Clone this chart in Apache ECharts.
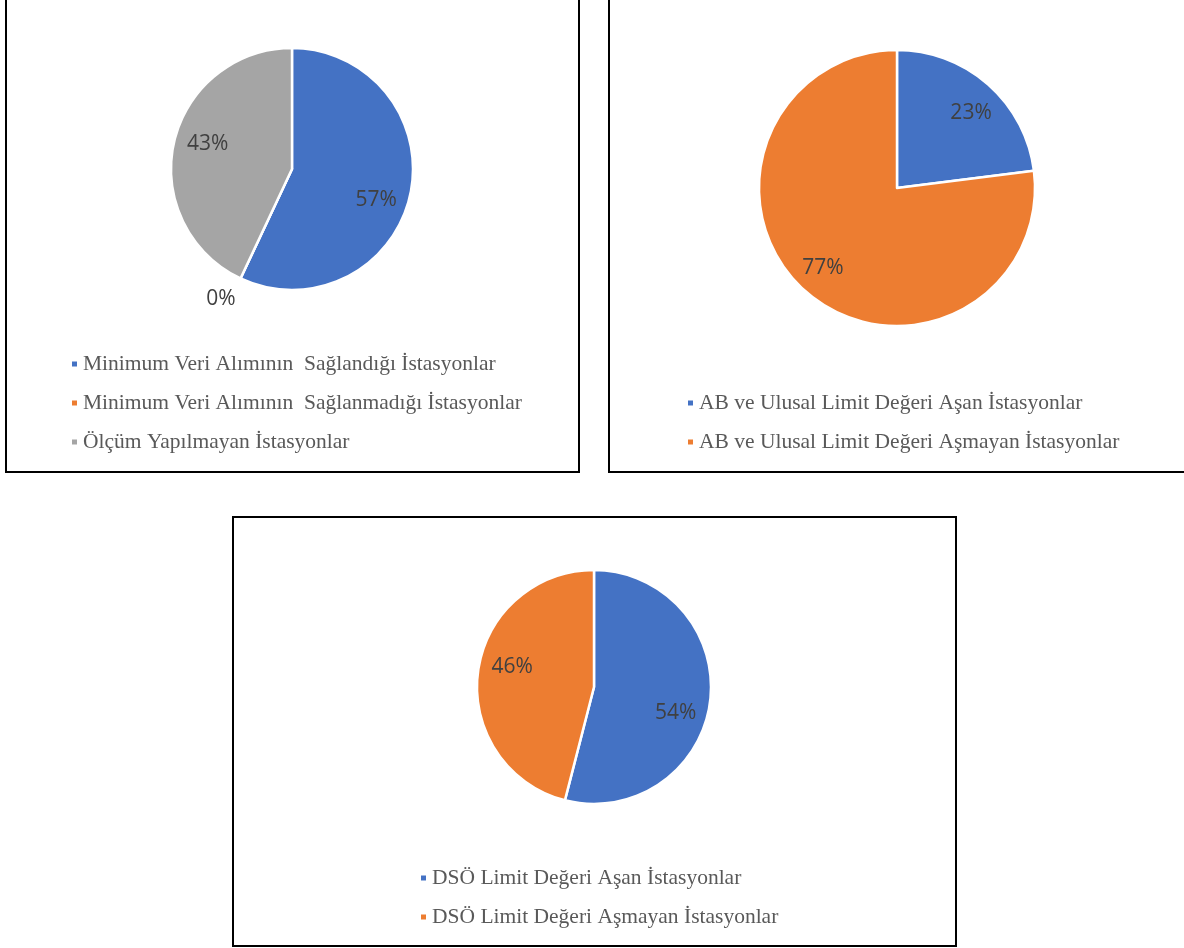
<!DOCTYPE html>
<html>
<head>
<meta charset="utf-8">
<script src="https://cdn.jsdelivr.net/npm/echarts@6/dist/echarts.min.js"></script>
<style>
  html, body { margin: 0; padding: 0; background: #fff; width: 1184px; height: 948px; overflow: hidden; }
  .box { position: absolute; border: 2px solid #000; box-sizing: border-box; background: #fff; }
  .chart { position: absolute; left: 0; top: 0; right: 0; bottom: 0; }
</style>
</head>
<body>
<div class="box" style="left:5px;top:-3px;width:575px;height:476px;"><div id="pie1" class="chart"></div></div>
<div class="box" style="left:608px;top:-3px;width:578px;height:476px;"><div id="pie2" class="chart"></div></div>
<div class="box" style="left:232px;top:516px;width:725px;height:431px;"><div id="pie3" class="chart"></div></div>
<script>
// data (percent of stations)
var names1 = ['Minimum Veri Alımının  Sağlandığı İstasyonlar', 'Minimum Veri Alımının  Sağlanmadığı İstasyonlar', 'Ölçüm Yapılmayan İstasyonlar'];
var values1 = [57, 0, 43];
var colors1 = ['#4472C4', '#ED7D31', '#A5A5A5'];

var names2 = ['AB ve Ulusal Limit Değeri Aşan İstasyonlar', 'AB ve Ulusal Limit Değeri Aşmayan İstasyonlar'];
var values2 = [23, 77];
var colors2 = ['#4472C4', '#ED7D31'];

var names3 = ['DSÖ Limit Değeri Aşan İstasyonlar', 'DSÖ Limit Değeri Aşmayan İstasyonlar'];
var values3 = [54, 46];
var colors3 = ['#4472C4', '#ED7D31'];

// build one pie: visible slices + a transparent ring that only carries the % labels
// (Excel puts its labels ~0.7 r out and a few degrees clockwise of the slice middle)
function makePie(id, names, values, colors, cfg) {
  var chart = echarts.init(document.getElementById(id));
  var slices = names.map(function (n, i) {
    return {name: n, value: values[i], itemStyle: {color: colors[i]}};
  });
  var labelData = names.map(function (n, i) {
    var d = {name: n, value: values[i]};
    if (values[i] === 0) {
      d.label = {position: 'outside', offset: [20, 12]};
    }
    return d;
  });
  chart.setOption({
    animation: false,
    legend: {
      data: names,
      orient: 'vertical',
      left: cfg.legendLeft,
      top: cfg.legendTop,
      padding: 0,
      itemWidth: 7,
      itemHeight: 7,
      itemGap: 17,
      icon: 'rect',
      selectedMode: false,
      textStyle: {fontFamily: 'Liberation Serif', fontSize: 21.5, color: '#595959', lineHeight: 22}
    },
    series: [
      {
        type: 'pie',
        center: cfg.center,
        radius: [0, cfg.r],
        startAngle: 90,
        label: {show: false},
        labelLine: {show: false},
        itemStyle: {borderColor: '#fff', borderWidth: 2.5},
        emphasis: {disabled: true},
        data: slices
      },
      {
        type: 'pie',
        center: cfg.center,
        radius: [cfg.r * cfg.inner, cfg.r],
        startAngle: 90 - cfg.turn,
        silent: true,
        avoidLabelOverlap: false,
        itemStyle: {color: 'rgba(0,0,0,0)', borderWidth: 0},
        label: {
          show: true,
          position: 'inside',
          offset: [0, 3],
          fontFamily: 'Open Sans',
          fontSize: 21,
          color: '#404040',
          formatter: function (p) { return Math.round(p.percent) + '%'; }
        },
        labelLine: {show: false, length: 17, length2: 0},
        emphasis: {disabled: true},
        data: labelData
      }
    ]
  });
  return chart;
}

makePie('pie1', names1, values1, colors1, {center: [285, 170], r: 121, inner: 0.42, turn: 6, legendLeft: 63, legendTop: 354});
makePie('pie2', names2, values2, colors2, {center: [287, 189], r: 138, inner: 0.51, turn: 2.3, legendLeft: 76, legendTop: 393});
makePie('pie3', names3, values3, colors3, {center: [360, 169], r: 117, inner: 0.40, turn: 8.5, legendLeft: 185, legendTop: 349});
</script>
</body>
</html>
